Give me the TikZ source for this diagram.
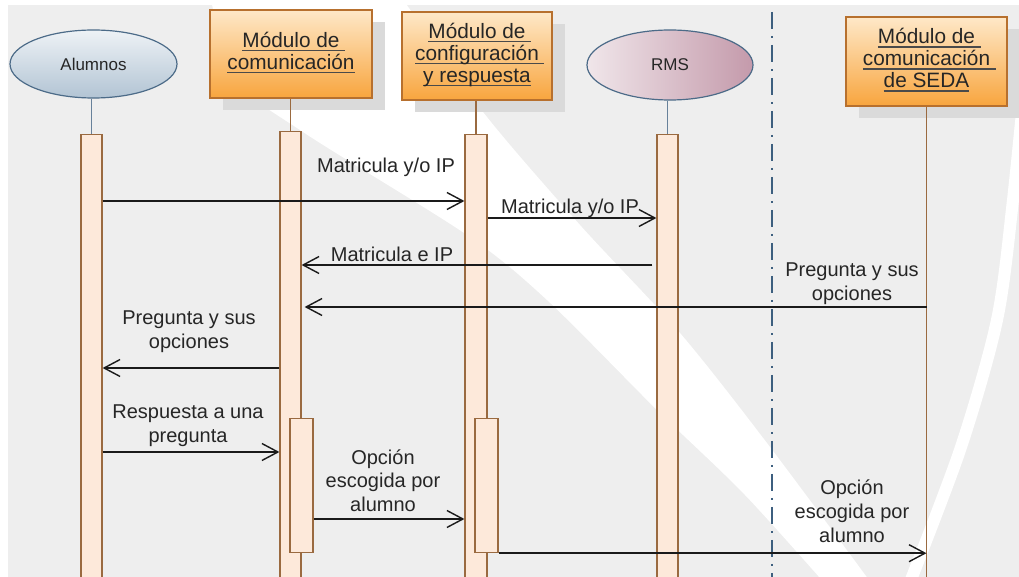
\documentclass[tikz,border=0pt]{standalone}
\usepackage{fontspec}
\setmainfont{Liberation Sans}
\usetikzlibrary{shapes.geometric,arrows.meta,calc,shadows}
\definecolor{bgc}{HTML}{EEEEEE}
\definecolor{shadc}{HTML}{DADADA}
\definecolor{barfill}{HTML}{FDE9DA}
\definecolor{barline}{HTML}{9A6A40}
\definecolor{boxline}{HTML}{B7702E}
\definecolor{boxtop}{HTML}{FEE8C8}
\definecolor{boxbot}{HTML}{F8A53E}
\definecolor{elltop}{HTML}{EEF2F6}
\definecolor{ellbot}{HTML}{B2C4D4}
\definecolor{elline}{HTML}{4C6B88}
\definecolor{rmsl}{HTML}{F0E6EA}
\definecolor{rmsr}{HTML}{C49AAB}
\definecolor{txtc}{HTML}{262626}
\definecolor{msgc}{HTML}{1A1A1A}
\definecolor{ulc}{HTML}{4A4A4A}
\definecolor{sepc}{HTML}{3D5F7F}
\newlength\ulext
\newcommand\ulw[1]{\setbox0\hbox{#1}\rlap{\color{ulc}\rule[-2pt]{\wd0}{0.7pt}}\box0}
\newcommand\ulx[1]{\setbox0\hbox{#1}\ulext=\wd0\advance\ulext by 2.8pt\rlap{\color{ulc}\rule[-2pt]{\ulext}{0.7pt}}\box0}
\newcommand\lns[1]{\begin{tabular}[b]{@{}c@{}}#1\end{tabular}}
\tikzset{
  modbox/.style={rectangle, draw=boxline, line width=0.6pt, top color=boxtop, bottom color=boxbot,
    inner sep=0pt, text=txtc, font=\fontsize{10.4}{11}\selectfont,
    drop shadow={shadow xshift=6.5pt, shadow yshift=-6pt, fill=shadc, opacity=1}},
  actor/.style={ellipse, draw=elline, line width=0.6pt, inner sep=0pt, text=txtc,
    font=\fontsize{8.5}{10}\selectfont},
  actbar/.style={rectangle, draw=barline, fill=barfill, line width=0.6pt, inner sep=0pt, anchor=north},
  blife/.style={draw=elline!85, line width=0.6pt},
  olife/.style={draw=barline, line width=0.6pt},
  msg/.style={draw=msgc, line width=0.7pt, -{Straight Barb[length=8pt,width=8.5pt]}},
  msglbl/.style={anchor=base, inner sep=0pt, text=txtc, font=\fontsize{10}{12}\selectfont},
  sepline/.style={draw=sepc, line width=0.7pt, dash pattern=on 8.5pt off 3.5pt on 1pt off 3.5pt}
}
\begin{document}
\begin{tikzpicture}[x=0.5pt, y=-0.5pt]
\useasboundingbox (0,0) rectangle (1019,577);
\clip (0,0) rectangle (1019,577);
% background
\fill[white] (0,0) rectangle (1019,577);
\fill[bgc] (8,5) rectangle (1019,577);
\fill[white] plot[smooth] coordinates {(210,-5) (236,80) (303,132) (467,235) (547,300) (657,410) (745,495) (835,595)}
  -- plot[smooth] coordinates {(880,595) (770,447) (680,333) (580,225) (483,112) (400,-5)} -- cycle;
\draw[white, line width=6pt] plot[smooth] coordinates {(1028,50) (1013,200) (997,320) (960,450) (903,600)};
% header objects
\node[actor, top color=elltop, bottom color=ellbot, minimum width=83.5pt, minimum height=34pt] (alEl) at (93.5,64) {Alumnos};
\node[modbox, minimum width=81pt, minimum height=44pt] (cmBox) at (291,54)
  {\lns{\ulx{Módulo de}\\\ulw{comunicación}}};
\node[modbox, minimum width=75pt, minimum height=44pt] (cfBox) at (477,56)
  {\lns{\ulx{Módulo de}\\\ulx{configuración}\\\ulw{y respuesta}}};
\node[actor, left color=rmsl, right color=rmsr, minimum width=83pt, minimum height=35pt] (rmEl) at (670,65) {RMS};
\node[modbox, minimum width=80.5pt, minimum height=44.5pt] (sdBox) at (926.5,61.5)
  {\lns{\ulx{Módulo de}\\\ulx{comunicación}\\\ulw{de SEDA}}};
% separator
\coordinate (sepTop) at (772,12);
\coordinate (sepBot) at (772,590);
\draw[sepline] (sepTop) -- (sepBot);
% activation bars
\node[actbar, minimum width=10.5pt, minimum height=232pt] (alBar) at (91.5,134) {};
\node[actbar, minimum width=10.5pt, minimum height=232pt] (cmBar) at (290.5,131) {};
\node[actbar, minimum width=11pt, minimum height=232pt] (cfBar) at (476,134) {};
\node[actbar, minimum width=10.5pt, minimum height=232pt] (rmBar) at (667.5,134) {};
\node[actbar, minimum width=11.5pt, minimum height=67pt] (cmIn) at (301.5,418) {};
\node[actbar, minimum width=11.5pt, minimum height=67pt] (cfIn) at (486.5,418) {};
% lifelines
\draw[blife] (alBar.north |- alEl.south) -- (alBar.north);
\draw[olife] (cmBar.north |- cmBox.south) -- (cmBar.north);
\draw[olife] (cfBar.north |- cfBox.south) -- (cfBar.north);
\draw[blife] (rmBar.north |- rmEl.south) -- (rmBar.north);
\coordinate (sdEnd) at (926.5,590);
\draw[olife] (sdBox.south) -- (sdEnd);
% messages
\draw[msg] (alBar.east |- 0,201) -- (cfBar.west |- 0,201);
\node[msglbl] (l1) at (386,173) {\lns{Matricula y/o IP}};
\draw[msg] (cfBar.east |- 0,218) -- (rmBar.west |- 0,218);
\node[msglbl] (l2) at (570,214) {\lns{Matricula y/o IP}};
\draw[msg] ($(rmBar.west |- 0,265)+(-4,0)$) -- (cmBar.east |- 0,265);
\node[msglbl] (l3) at (392,262) {\lns{Matricula e IP}};
\draw[msg] (sdBox.south |- 0,307) -- ($(cmBar.east |- 0,307)+(3,0)$);
\node[msglbl] (l4) at (852,301) {\lns{Pregunta y sus\\opciones}};
\draw[msg] (cmBar.west |- 0,368) -- (alBar.east |- 0,368);
\node[msglbl] (l5) at (189,349) {\lns{Pregunta y sus\\opciones}};
\draw[msg] (alBar.east |- 0,452) -- (cmBar.west |- 0,452);
\node[msglbl] (l6) at (188,443) {\lns{Respuesta a una\\pregunta}};
\draw[msg] (cmIn.east |- 0,519) -- (cfBar.west |- 0,519);
\node[msglbl] (l7) at (383,512) {\lns{Opción\\escogida por\\alumno}};
\draw[msg] (cfIn.south east) -- (sdBox.south |- cfIn.south east);
\node[msglbl] (l8) at (852,543) {\lns{Opción\\escogida por\\alumno}};
\end{tikzpicture}
\end{document}
